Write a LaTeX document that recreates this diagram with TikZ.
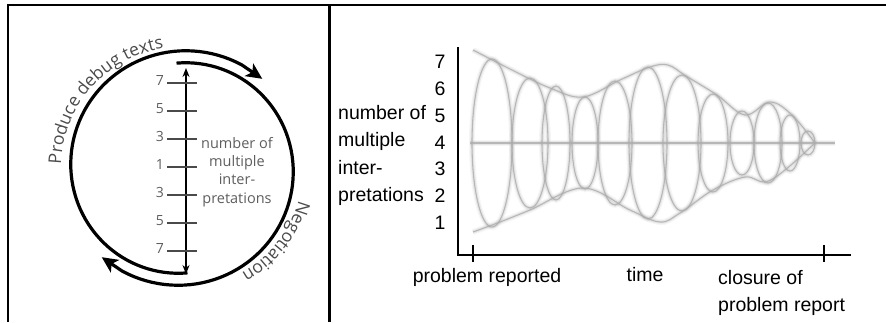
\documentclass[tikz,border=0pt]{standalone}
\usepackage{fontspec}
\setmainfont{Liberation Sans}
\newfontfamily\humsans{Open Sans}
\usetikzlibrary{arrows.meta,decorations.text,calc}
\definecolor{inkgray}{HTML}{4A4A4A}
\definecolor{labelgray}{HTML}{5E5E5E}
\definecolor{haze}{HTML}{ABABAB}
\newcommand\curvefont{\humsans\fontsize{17.5}{17.5}\selectfont}
\begin{document}
\begin{tikzpicture}[x=1pt,y=-1pt,
  declare function={rr(\t)=105+15*(\t-87)/225;},
  frame/.style={line width=2.2pt,black},
  loopline/.style={line width=3.2pt,line cap=butt,-{Stealth[length=16pt,width=15pt,inset=4pt]}},
  scalebar/.style={line width=2.2pt,{Stealth[length=9pt,width=7pt]}-{Stealth[length=9pt,width=7pt]}},
  tickmark/.style={line width=1.3pt,inkgray},
  ticklabel/.style={font=\humsans\fontsize{14}{14}\selectfont,text=labelgray,inner sep=0pt,anchor=base east},
  scaletext/.style={font=\humsans\fontsize{14.5}{18.3}\selectfont,text=labelgray,align=center},
  axisline/.style={line width=2pt,black},
  axislabel/.style={font=\fontsize{19.5}{27.2}\selectfont,inner sep=0pt},
  hazy/.style={draw=haze,line width=1.1pt,draw opacity=0.8,
    preaction={draw=haze,opacity=0.22,line width=3.4pt},
    preaction={draw=haze,opacity=0.10,line width=6pt}}]
\useasboundingbox (0,0) rectangle (886,322);

% table frame
\draw[frame] (8,322) -- (8,5) -- (886,5);
\draw[frame] (329.5,5) -- (329.5,322);

% ---------- left panel: cycle ----------
\coordinate (C) at (182,168);
\draw[loopline] plot[domain=87:300,samples=70] ({182+rr(\x)*cos(\x)},{168+rr(\x)*sin(\x)})
  -- ({182+rr(312)*cos(312)},{168+rr(312)*sin(312)});
\draw[loopline] plot[domain=267:480,samples=70] ({182+rr(\x-180)*cos(\x)},{168+rr(\x-180)*sin(\x)})
  -- ({182+rr(312)*cos(492)},{168+rr(312)*sin(492)});

\path[decorate,decoration={text along path,text color=inkgray,text align=center,
  text={|\curvefont|Produce debug texts}}]
  ($(C)+(181:121)$) arc[start angle=181,end angle=262,radius=121];
\path[decorate,decoration={text along path,text color=inkgray,text align=center,
  text={|\curvefont|Negotiation}}]
  ($(C)+(13:121)$) arc[start angle=13,end angle=63,radius=121];

\coordinate (scaletop) at (186,68);
\coordinate (scalebot) at (186,274);
\draw[scalebar] (scaletop) -- (scalebot);
\foreach \yy/\lab in {83/7,111/5,139/3,167/1,195/3,223/5,251/7}{
  \draw[tickmark] (167,\yy) -- (197,\yy);
  \node[ticklabel] at (164,\yy+2) {\lab};
}
\node[scaletext] (scalename) at (237,172) {number of\\multiple\\inter-\\pretations};

% ---------- right panel: plot over time ----------
% blurred envelope of interpretations
\draw[hazy] (470,143) -- (835,143);
\draw[hazy] plot[smooth,tension=0.6] coordinates {(473,50) (512,70) (550,88) (583,97) (620,80) (650,67) (668,65) (686,76) (717,95) (745,115) (770,102) (792,115) (815,143)};
\draw[hazy] plot[smooth,tension=0.6] coordinates {(473,232) (500,222) (530,210) (583,188) (630,210) (660,222) (680,213) (713,190) (745,177) (765,182) (785,170) (815,143)};
\foreach \cx/\a/\b in {492/20/84,530/18/65,556/14/57,585/13/46,615/17/62,648/19/76,682/19/68,713/15/49,742/12/32,768/14/40,790/10/28,808/7/12}{
  \draw[hazy] (\cx,143) ellipse[x radius=\a,y radius=\b];
}

\coordinate (origin) at (458,255);
\coordinate (ytop) at (458,47);
\coordinate (xend) at (851,255);
\draw[axisline] (ytop) -- (origin) -- (xend);
\coordinate (t0) at (473,255);
\coordinate (t1) at (824,255);
\draw[axisline] ($(t0)+(0,-10)$) -- ($(t0)+(0,7)$);
\draw[axisline] ($(t1)+(0,-10)$) -- ($(t1)+(0,7)$);

\foreach \yy/\lab in {62/7,88.7/6,115.5/5,142.5/4,169/3,196/2,223/1}{
  \node[axislabel] at (440,\yy) {\lab};
}
\node[axislabel,align=left,anchor=west] (ylabel) at (338,155.5) {number of\\multiple\\inter-\\pretations};
\node[axislabel] (start) at (487,277) {problem reported};
\node[axislabel] (time) at (645,275) {time};
\node[axislabel,align=left,anchor=west] (closure) at (718,293) {closure of\\problem report};
\end{tikzpicture}
\end{document}
